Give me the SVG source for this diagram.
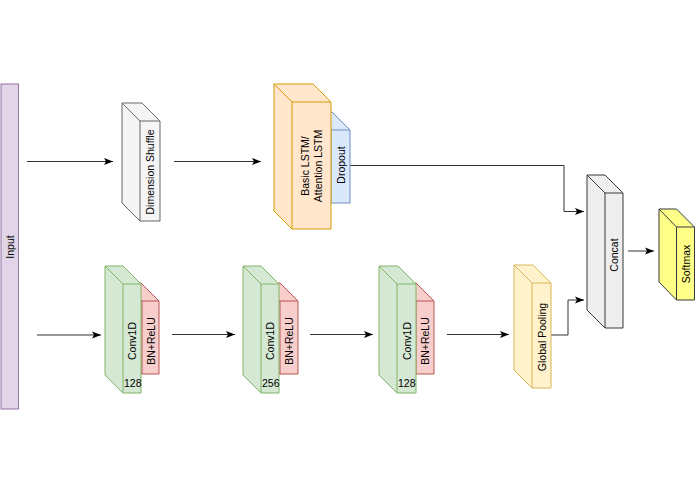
<svg xmlns="http://www.w3.org/2000/svg" width="695" height="494" viewBox="0 0 695 494">
<style>
text{font-family:"Liberation Sans",Arial,sans-serif;font-size:10.5px;fill:#000}
.v{text-anchor:middle;dominant-baseline:central}
.c{stroke-width:1;stroke-linejoin:round}
.e{fill:none;stroke:#333;stroke-width:1}
.purple{fill:#e1d5e7;stroke:#9673a6}
.white{fill:#f5f5f5;stroke:#666}
.orange{fill:#ffe6cc;stroke:#d79b00}
.blue{fill:#dae8fc;stroke:#6c8ebf}
.green{fill:#d5e8d4;stroke:#82b366}
.red{fill:#f8cecc;stroke:#b85450}
.yellow{fill:#fff2cc;stroke:#d6b656}
.grey{fill:#eeeeee;stroke:#36393d}
.soft{fill:#ffff88;stroke:#36393d}
</style>
<defs>
<marker id="arr" markerUnits="userSpaceOnUse" markerWidth="10" markerHeight="8" refX="9" refY="4" orient="auto">
<path d="M0,0.5 L9,4 L0,7.5 L2,4 Z" fill="#000"/>
</marker>
</defs>
<rect width="695" height="494" fill="#fff"/>

<g id="connectors">
<path class="e" d="M27,161.5 H113" marker-end="url(#arr)"/>
<path class="e" d="M174,161.5 H261" marker-end="url(#arr)"/>
<path class="e" d="M350,165.5 H564 V211.5 H584" marker-end="url(#arr)"/>
<path class="e" d="M551,335 H568 V300 H584" marker-end="url(#arr)"/>
<path class="e" d="M628,251 H654" marker-end="url(#arr)"/>
<path class="e" d="M37,335 H101" marker-end="url(#arr)"/>
<path class="e" d="M172,334.5 H235" marker-end="url(#arr)"/>
<path class="e" d="M310,334.5 H373" marker-end="url(#arr)"/>
<path class="e" d="M447,334.5 H509" marker-end="url(#arr)"/>
</g>

<g id="input">
<rect class="purple" x="1" y="84" width="17.5" height="325"/>
<text class="v" transform="translate(10,247) rotate(-90)">Input</text>
</g>

<g id="dimension-shuffle">
<path class="white c" d="M122,103 H142 L160,121 V221 H140 L122,203 Z"/>
<path class="white c" fill="none" d="M122,103 L140,121 H160 M140,121 V221"/>
<text class="v" transform="translate(150,172) rotate(-90)">Dimension Shuffle</text>
</g>

<g id="dropout">
<path class="blue c" d="M313,112 H332 L350,130 V203 H331 L313,185 Z"/>
<path class="blue c" fill="none" d="M313,112 L331,130 H350 M331,130 V203"/>
<text class="v" transform="translate(341,165) rotate(-90)">Dropout</text>
</g>

<g id="lstm">
<path class="orange c" d="M274,84 H313 L331,102 V229 H292 L274,211 Z"/>
<path class="orange c" fill="none" d="M274,84 L292,102 H331 M292,102 V229"/>
<text class="v" transform="translate(304.5,166) rotate(-90)">Basic LSTM/</text>
<text class="v" transform="translate(318,166) rotate(-90)">Attention LSTM</text>
</g>

<g id="bn1">
<path class="red c" d="M124,283 H141 L159,301 V374 H142 L124,356 Z"/>
<path class="red c" fill="none" d="M124,283 L142,301 H159 M142,301 V374"/>
<text class="v" transform="translate(150.5,341) rotate(-90)">BN+ReLU</text>
</g>
<g id="conv1">
<path class="green c" d="M105,266 H123 L141,284 V393 H123 L105,375 Z"/>
<path class="green c" fill="none" d="M105,266 L123,284 H141 M123,284 V393"/>
<text class="v" transform="translate(132,341) rotate(-90)">Conv1D</text>
<text x="124" y="387">128</text>
</g>

<g id="bn2">
<path class="red c" d="M262,283 H280 L298,301 V374 H280 L262,356 Z"/>
<path class="red c" fill="none" d="M262,283 L280,301 H298 M280,301 V374"/>
<text class="v" transform="translate(289,341) rotate(-90)">BN+ReLU</text>
</g>
<g id="conv2">
<path class="green c" d="M243,266 H261 L279,284 V393 H261 L243,375 Z"/>
<path class="green c" fill="none" d="M243,266 L261,284 H279 M261,284 V393"/>
<text class="v" transform="translate(270,341) rotate(-90)">Conv1D</text>
<text x="262" y="387">256</text>
</g>

<g id="bn3">
<path class="red c" d="M398,283 H416 L434,301 V374 H416 L398,356 Z"/>
<path class="red c" fill="none" d="M398,283 L416,301 H434 M416,301 V374"/>
<text class="v" transform="translate(425,341) rotate(-90)">BN+ReLU</text>
</g>
<g id="conv3">
<path class="green c" d="M379,266 H398 L416,284 V393 H397 L379,375 Z"/>
<path class="green c" fill="none" d="M379,266 L397,284 H416 M397,284 V393"/>
<text class="v" transform="translate(406.5,341) rotate(-90)">Conv1D</text>
<text x="398" y="387">128</text>
</g>

<g id="global-pooling">
<path class="yellow c" d="M514,265 H533 L551,283 V388 H532 L514,370 Z"/>
<path class="yellow c" fill="none" d="M514,265 L532,283 H551 M532,283 V388"/>
<text class="v" transform="translate(541.5,337) rotate(-90)">Global Pooling</text>
</g>

<g id="concat">
<path class="grey c" d="M587,175 H605 L623,193 V328 H605 L587,310 Z"/>
<path class="grey c" fill="none" d="M587,175 L605,193 H623 M605,193 V328"/>
<text class="v" transform="translate(614,255) rotate(-90)">Concat</text>
</g>

<g id="softmax">
<path class="soft c" d="M659,209 H676.5 L694.5,227 V300 H676.5 L659,282 Z"/>
<path class="soft c" fill="none" d="M659,209 L676.5,227 H694.5 M676.5,227 V300"/>
<text class="v" transform="translate(686,264) rotate(-90)">Softmax</text>
</g>
</svg>
